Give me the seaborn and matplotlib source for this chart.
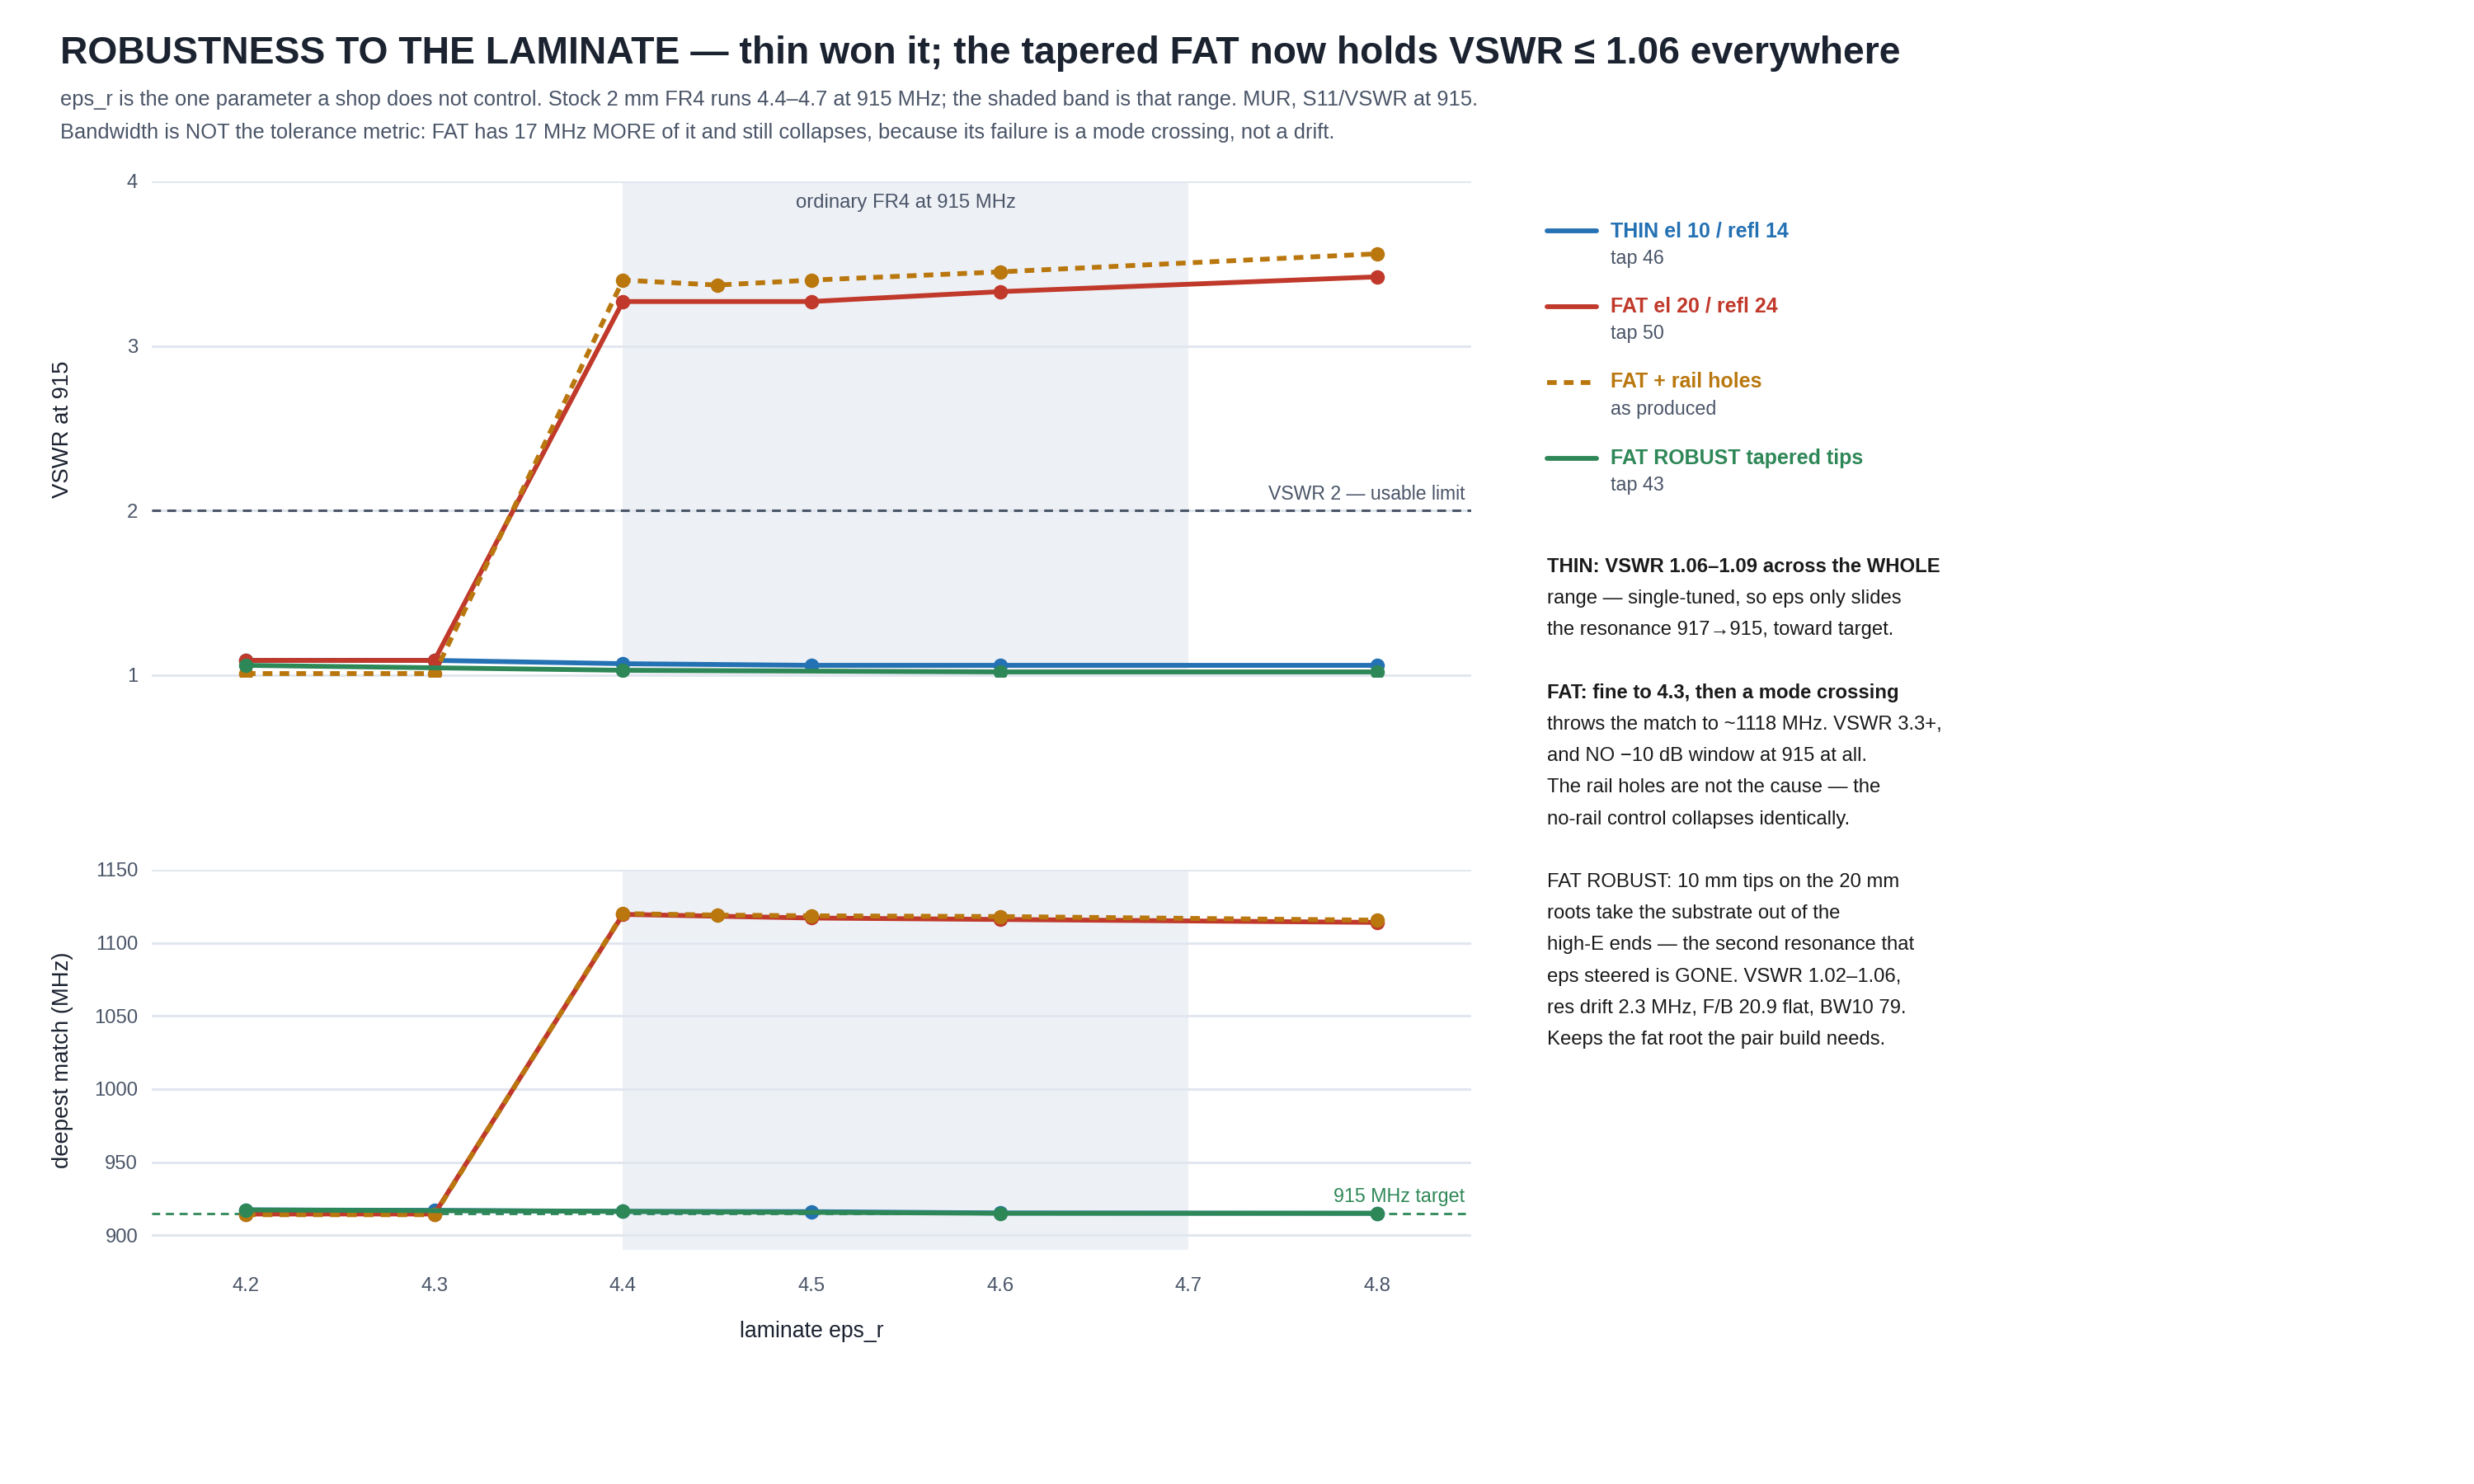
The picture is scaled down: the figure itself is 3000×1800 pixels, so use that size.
import matplotlib
matplotlib.use("Agg")
import matplotlib.pyplot as plt
from matplotlib.lines import Line2D
import seaborn as sns

# eps_r sweep per build
eps_thin = [4.2, 4.3, 4.4, 4.5, 4.6, 4.8]
vswr_thin = [1.09, 1.09, 1.07, 1.06, 1.06, 1.06]
res_thin = [917.3, 917.0, 916.3, 916.1, 915.2, 915.0]

eps_fat = [4.2, 4.3, 4.4, 4.5, 4.6, 4.8]
vswr_fat = [1.09, 1.09, 3.27, 3.27, 3.33, 3.42]
res_fat = [914.5, 914.5, 1119.5, 1117.0, 1116.0, 1114.0]

eps_rail = [4.2, 4.3, 4.4, 4.45, 4.5, 4.6, 4.8]
vswr_rail = [1.01, 1.01, 3.40, 3.37, 3.40, 3.45, 3.56]
res_rail = [914.0, 914.0, 1120.0, 1119.0, 1118.5, 1118.0, 1115.5]

eps_robust = [4.2, 4.4, 4.6, 4.8]
vswr_robust = [1.06, 1.03, 1.02, 1.02]
res_robust = [917.3, 916.3, 915.0, 915.0]

names = ["THIN el 10 / refl 14", "FAT el 20 / refl 24", "FAT + rail holes", "FAT ROBUST tapered tips"]
subnames = ["tap 46", "tap 50", "as produced", "tap 43"]

fr4_band = (4.4, 4.7)
vswr_limit = 2
target_mhz = 915
x_ticks = [4.2, 4.3, 4.4, 4.5, 4.6, 4.7, 4.8]
vswr_ticks = [1, 2, 3, 4]
res_ticks = [900, 950, 1000, 1050, 1100, 1150]

notes = [
    ("THIN: VSWR 1.06\u20131.09 across the WHOLE", True),
    ("range \u2014 single-tuned, so eps only slides", False),
    ("the resonance 917\u2192915, toward target.", False),
    ("", False),
    ("FAT: fine to 4.3, then a mode crossing", True),
    ("throws the match to ~1118 MHz. VSWR 3.3+,", False),
    ("and NO \u221210 dB window at 915 at all.", False),
    ("The rail holes are not the cause \u2014 the", False),
    ("no-rail control collapses identically.", False),
    ("", False),
    ("FAT ROBUST: 10 mm tips on the 20 mm", False),
    ("roots take the substrate out of the", False),
    ("high-E ends \u2014 the second resonance that", False),
    ("eps steered is GONE. VSWR 1.02\u20131.06,", False),
    ("res drift 2.3 MHz, F/B 20.9 flat, BW10 79.", False),
    ("Keeps the fat root the pair build needs.", False),
]

colors = ["#2471b3", "#c0392b", "#b9770e", "#2e8757"]
styles = ["-", "-", "--", "-"]
INK = "#1b2230"
MUTED = "#4a5568"
GRID = "#e2e7ef"
BAND = "#edf0f5"

sns.set_theme(style="white")
plt.rcParams["font.family"] = ["Liberation Sans", "DejaVu Sans"]

fig = plt.figure(figsize=(15, 9), dpi=200)
ax1 = fig.add_axes([0.0613, 0.5439, 0.5334, 0.3339])
ax2 = fig.add_axes([0.0613, 0.1578, 0.5334, 0.2561])

series = [
    (eps_thin, vswr_thin, res_thin),
    (eps_fat, vswr_fat, res_fat),
    (eps_rail, vswr_rail, res_rail),
    (eps_robust, vswr_robust, res_robust),
]

for ax in (ax1, ax2):
    ax.axvspan(*fr4_band, color=BAND, lw=0, zorder=0)
    for s in ax.spines.values():
        s.set_visible(False)
    ax.set_xlim(4.15, 4.85)
    ax.yaxis.grid(True, color=GRID, lw=1.1, zorder=0.5)
    ax.xaxis.grid(False)
    ax.set_axisbelow(True)
    ax.tick_params(axis="both", length=0, labelsize=8.6, labelcolor=MUTED)
    ax.tick_params(axis="y", pad=6)
    ax.set_xticks(x_ticks)

ax1.axhline(vswr_limit, color=MUTED, lw=1.1, ls=(0, (3.5, 2.5)), zorder=1)
ax2.axhline(target_mhz, color=colors[3], lw=1.0, ls=(0, (3.5, 2.5)), zorder=1)

for i, (x, v, r) in enumerate(series):
    for ax, y in ((ax1, v), (ax2, r)):
        sns.lineplot(x=x, y=y, ax=ax, color=colors[i], lw=2.1, marker="o",
                     markersize=6.3, markeredgewidth=0, legend=False, zorder=3 + i)
        line = ax.get_lines()[-1]
        if styles[i] == "--":
            line.set_dashes((2.0, 1.5))

ax1.set_ylim(0.99, 4.0)
ax1.set_yticks(vswr_ticks)
ax1.set_xticklabels([])
ax1.set_xlabel("")
ax1.set_ylabel("VSWR at 915", fontsize=9.9, color=INK)

ax2.set_ylim(890, 1150)
ax2.set_yticks(res_ticks)
ax2.tick_params(axis="x", pad=12)
ax2.set_xlabel("laminate eps_r", fontsize=9.6, color=INK, labelpad=11)
ax2.set_ylabel("deepest match (MHz)", fontsize=9.9, color=INK)
for ax in (ax1, ax2):
    ax.yaxis.set_label_coords(-0.059, 0.5)

ax1.text(sum(fr4_band) / 2, 0.957, "ordinary FR4 at 915 MHz", transform=ax1.get_xaxis_transform(),
         ha="center", va="center", fontsize=8.6, color=MUTED)
ax1.annotate("VSWR 2 \u2014 usable limit", xy=(4.8467, vswr_limit), xytext=(0, 3),
             textcoords="offset points", ha="right", va="bottom", fontsize=8.3, color=MUTED)
ax2.annotate("915 MHz target", xy=(4.8467, target_mhz), xytext=(0, 3),
             textcoords="offset points", ha="right", va="bottom", fontsize=8.4, color=colors[3])

# title block
fig.text(0.0243, 0.964, "ROBUSTNESS TO THE LAMINATE \u2014 thin won it; the tapered FAT now holds VSWR \u2264 1.06 everywhere",
         ha="left", va="center", fontsize=16.67, fontweight="bold", color=INK)
fig.text(0.0243, 0.933, "eps_r is the one parameter a shop does not control. Stock 2 mm FR4 runs 4.4\u20134.7 at 915 MHz; "
         "the shaded band is that range. MUR, S11/VSWR at 915.", ha="left", va="center", fontsize=9.2, color=MUTED)
fig.text(0.0243, 0.9106, "Bandwidth is NOT the tolerance metric: FAT has 17 MHz MORE of it and still collapses, "
         "because its failure is a mode crossing, not a drift.", ha="left", va="center", fontsize=9.2, color=MUTED)

# legend
leg_y = [0.8444, 0.7935, 0.7425, 0.6913]
for i in range(4):
    y = leg_y[i]
    ln = Line2D([0.6253, 0.6453], [y, y], transform=fig.transFigure, color=colors[i], lw=2.1)
    if styles[i] == "--":
        ln.set_dashes((2.0, 1.5))
    fig.add_artist(ln)
    fig.text(0.6510, y, names[i], ha="left", va="center", fontsize=9.0, fontweight="bold", color=colors[i])
    fig.text(0.6510, y - 0.0183, subnames[i], ha="left", va="center", fontsize=8.4, color=MUTED)

# notes
for k, (txt, bold) in enumerate(notes):
    if not txt:
        continue
    fig.text(0.6253, 1 - (688 + 38.2 * k) / 1800, txt, ha="left", va="center", fontsize=8.6,
             fontweight="bold" if bold else "normal", color="#1a1a1a")

fig.savefig("out.png", dpi=200)
